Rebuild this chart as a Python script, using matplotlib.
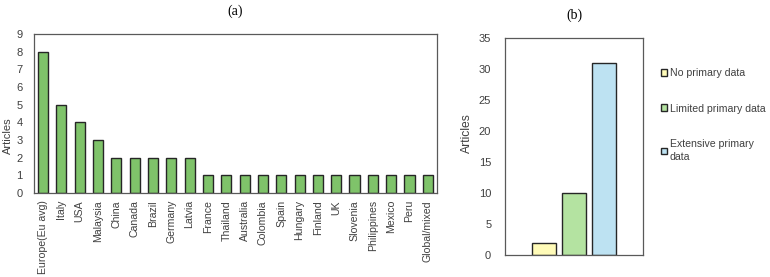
import matplotlib.pyplot as plt
import numpy as np

plt.rcParams['font.family'] = ['Liberation Sans', 'DejaVu Sans']

# (a) articles per country
countries = ['Europe(Eu avg)', 'Italy', 'USA', 'Malaysia', 'China', 'Canada', 'Brazil',
             'Germany', 'Latvia', 'France', 'Thailand', 'Australia', 'Colombia', 'Spain',
             'Hungary', 'Finland', 'UK', 'Slovenia', 'Philippines', 'Mexico', 'Peru',
             'Global/mixed']
country_articles = [8, 5, 4, 3, 2, 2, 2, 2, 2, 1, 1, 1, 1, 1, 1, 1, 1, 1, 1, 1, 1, 1]

# (b) articles per data type
data_types = ['No primary data', 'Limited primary data', 'Extensive primary\ndata']
type_articles = [2, 10, 31]
type_colors = ['#fffbb8', '#b4e3a1', '#bde2f2']

fig = plt.figure(figsize=(7.7, 2.77), dpi=100)

spine_col = '#595959'
txt_col = '#404040'

ax1 = fig.add_axes([0.044, 0.303, 0.5235, 0.574])
x1 = np.arange(len(countries))
ax1.bar(x1, country_articles, width=0.55, color='#7fc36a', edgecolor='#262626', linewidth=1.0)
ax1.set_xlim(-0.5, len(countries) - 0.5)
ax1.set_ylim(0, 9)
ax1.set_yticks(range(0, 10))
ax1.set_xticks(x1)
ax1.set_xticklabels(countries, rotation=90)
ax1.set_ylabel('Articles', fontsize=8, color=txt_col)
ax1.yaxis.set_label_coords(-0.053, 0.36)
ax1.tick_params(axis='y', length=0, labelsize=8, colors=txt_col, pad=8)
ax1.tick_params(axis='x', length=0, labelsize=7.6, colors=txt_col, pad=5)
for s in ax1.spines.values():
    s.set_color(spine_col)
    s.set_linewidth(0.9)
ax1.set_title('(a)', family=['Liberation Serif'], fontsize=10, pad=14)

ax2 = fig.add_axes([0.656, 0.079, 0.179, 0.784])
x2 = np.arange(len(data_types))
for i in range(len(data_types)):
    ax2.bar(x2[i], type_articles[i], width=0.8, color=type_colors[i],
            edgecolor='#262626', linewidth=1.0, label=data_types[i])
ax2.set_xlim(-1.3, 3.3)
ax2.set_ylim(0, 35)
ax2.set_yticks(range(0, 36, 5))
ax2.set_xticks([])
ax2.set_ylabel('Articles', fontsize=8.7, color=txt_col)
ax2.yaxis.set_label_coords(-0.23, 0.56)
ax2.tick_params(length=0, labelsize=8, colors=txt_col, pad=10)
for s in ax2.spines.values():
    s.set_color(spine_col)
    s.set_linewidth(0.9)
ax2.set_title('(b)', family=['Liberation Serif'], fontsize=10, pad=14)
leg = ax2.legend(loc='upper left', bbox_to_anchor=(1.1, 0.88), frameon=False, fontsize=7.6,
                 handlelength=0.6, handleheight=0.6, handletextpad=0.25, labelspacing=2.4,
                 borderaxespad=0, labelcolor=txt_col)
for t in leg.get_texts():
    t.set_linespacing(1.45)

fig.savefig('out.png', dpi=100)
